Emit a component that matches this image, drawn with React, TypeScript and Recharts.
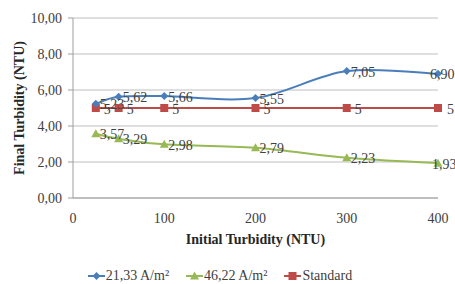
import { CartesianGrid, Label, LabelList, Legend, Line, LineChart, XAxis, YAxis } from "recharts";

const initialTurbidity = [25, 50, 100, 200, 300, 400];
const low = [5.23, 5.62, 5.66, 5.55, 7.05, 6.9];
const high = [3.57, 3.29, 2.98, 2.79, 2.23, 1.93];
const standard = [5, 5, 5, 5, 5, 5];
const yTicks = [0, 2, 4, 6, 8, 10];
const xTicks = [0, 100, 200, 300, 400];

const data = initialTurbidity.map((x, i) => ({ x, low: low[i], high: high[i], standard: standard[i] }));

const BLUE = "#4A7EBB";
const GREEN = "#98B954";
const RED = "#BE4B48";
const FONT = "'Liberation Serif', 'Times New Roman', serif";

const comma = (v: number, digits: number) => v.toFixed(digits).replace(".", ",");

// Excel-like smoothed line (Catmull-Rom through the points)
function smoothCurve(context: any) {
  let pts: number[][] = [];
  return {
    areaStart() {},
    areaEnd() {},
    lineStart() {
      pts = [];
    },
    point(x: number, y: number) {
      pts.push([+x, +y]);
    },
    lineEnd() {
      if (!pts.length) return;
      context.moveTo(pts[0][0], pts[0][1]);
      for (let i = 0; i < pts.length - 1; i++) {
        const p0 = pts[Math.max(i - 1, 0)];
        const p1 = pts[i];
        const p2 = pts[i + 1];
        const p3 = pts[Math.min(i + 2, pts.length - 1)];
        context.bezierCurveTo(
          p1[0] + (p2[0] - p0[0]) / 6,
          p1[1] + (p2[1] - p0[1]) / 6,
          p2[0] - (p3[0] - p1[0]) / 6,
          p2[1] - (p3[1] - p1[1]) / 6,
          p2[0],
          p2[1]
        );
      }
    },
  };
}

function Diamond({ cx, cy }: any) {
  if (cx == null || cy == null) return null;
  return <path d={`M${cx},${cy - 4}L${cx + 4},${cy}L${cx},${cy + 4}L${cx - 4},${cy}Z`} fill={BLUE} />;
}

function Triangle({ cx, cy }: any) {
  if (cx == null || cy == null) return null;
  return <path d={`M${cx},${cy - 4.5}L${cx + 4.5},${cy + 3.5}L${cx - 4.5},${cy + 3.5}Z`} fill={GREEN} />;
}

function Square({ cx, cy }: any) {
  if (cx == null || cy == null) return null;
  return <rect x={cx - 4} y={cy - 4} width={8} height={8} fill={RED} />;
}

function makeLabel(digits: number, gap: number, lastShift: number) {
  return (props: any) => {
    const { x, y, value, index } = props;
    const dx = index === initialTurbidity.length - 1 ? lastShift : gap;
    return (
      <text x={x + dx} y={y + 1} dominantBaseline="central" fontSize={14} fontFamily={FONT} fill="#404040">
        {comma(Number(value), digits)}
      </text>
    );
  };
}

const legendItems = [
  { name: "21,33 A/m²", color: BLUE, shape: "diamond" },
  { name: "46,22 A/m²", color: GREEN, shape: "triangle" },
  { name: "Standard", color: RED, shape: "square" },
];

function LegendContent() {
  return (
    <div style={{ height: 30, display: "flex", justifyContent: "center", alignItems: "flex-end", fontFamily: FONT, fontSize: 14, color: "#404040", paddingLeft: 2 }}>
      {legendItems.map((it, i) => (
        <span key={it.name} style={{ display: "inline-flex", alignItems: "center", marginLeft: i ? 17 : 0, lineHeight: "16px" }}>
          <svg width={17} height={10} style={{ marginRight: 1 }}>
            <line x1={0} y1={5} x2={17} y2={5} stroke={it.color} strokeWidth={2} />
            {it.shape === "diamond" && <path d="M8.5,1L12.5,5L8.5,9L4.5,5Z" fill={it.color} />}
            {it.shape === "triangle" && <path d="M8.5,0.5L13,8.5L4,8.5Z" fill={it.color} />}
            {it.shape === "square" && <rect x={4.5} y={1} width={8} height={8} fill={it.color} />}
          </svg>
          {it.name}
        </span>
      ))}
    </div>
  );
}

export default function App() {
  return (
    <div style={{ position: "fixed", left: 0, top: 0, background: "#fff" }}>
      <LineChart width={455} height={284} data={data} margin={{ top: 18, right: 17, left: 0, bottom: 0 }}>
        <CartesianGrid vertical={false} stroke="#BFBFBF" />
        <XAxis
          dataKey="x"
          type="number"
          domain={[0, 400]}
          ticks={xTicks}
          tickLine={false}
          axisLine={{ stroke: "#9E9E9E" }}
          tickMargin={9}
          height={56}
          tick={{ fontSize: 14, fontFamily: FONT, fill: "#404040" }}
        >
          <Label
            content={({ viewBox }: any) => (
              <text x={viewBox.x + viewBox.width / 2} y={viewBox.y + 41} textAnchor="middle" dominantBaseline="central" fontSize={14} fontWeight="bold" fontFamily={FONT} fill="#262626">
                Initial Turbidity (NTU)
              </text>
            )}
          />
        </XAxis>
        <YAxis
          type="number"
          domain={[0, 10]}
          ticks={yTicks}
          width={73}
          tickSize={5}
          tickMargin={6}
          tickLine={{ stroke: "#9E9E9E" }}
          axisLine={{ stroke: "#9E9E9E" }}
          tickFormatter={(v: number) => comma(v, 2)}
          tick={{ fontSize: 14, fontFamily: FONT, fill: "#404040" }}
        >
          <Label
            content={({ viewBox }: any) => {
              const cx = viewBox.x + 19;
              const cy = viewBox.y + viewBox.height / 2;
              return (
                <text x={cx} y={cy} transform={`rotate(-90 ${cx} ${cy})`} textAnchor="middle" dominantBaseline="central" fontSize={14} fontWeight="bold" fontFamily={FONT} fill="#262626">
                  Final Turbidity (NTU)
                </text>
              );
            }}
          />
        </YAxis>
        <Legend verticalAlign="bottom" content={<LegendContent />} />
        <Line type={smoothCurve as any} dataKey="standard" stroke={RED} strokeWidth={2} dot={<Square />} isAnimationActive={false}>
          <LabelList dataKey="standard" content={makeLabel(0, 8, 9)} />
        </Line>
        <Line type={smoothCurve as any} dataKey="low" stroke={BLUE} strokeWidth={2} dot={<Diamond />} isAnimationActive={false}>
          <LabelList dataKey="low" content={makeLabel(2, 4, -8)} />
        </Line>
        <Line type={smoothCurve as any} dataKey="high" stroke={GREEN} strokeWidth={2} dot={<Triangle />} isAnimationActive={false}>
          <LabelList dataKey="high" content={makeLabel(2, 4, -6)} />
        </Line>
      </LineChart>
    </div>
  );
}
